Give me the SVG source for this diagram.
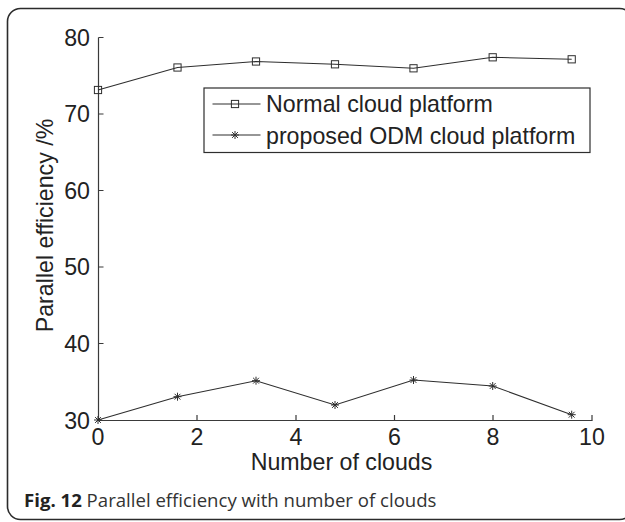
<svg xmlns="http://www.w3.org/2000/svg" width="625" height="522" viewBox="0 0 625 522">
<defs>
<style>
.frame{fill:none;stroke:#2b2b2b;stroke-width:1.6}
.axis{fill:none;stroke:#3a3a3a;stroke-width:1.2}
.series{fill:none;stroke:#2e2e2e;stroke-width:1.1}
.sq{fill:none;stroke:#2e2e2e;stroke-width:1}
.st{fill:none;stroke:#2e2e2e;stroke-width:1}
.t{font-family:"Liberation Sans",Arial,sans-serif;font-size:23.2px;fill:#222}
.cap{font-family:"Open Sans","Noto Sans",sans-serif;font-size:18.6px;fill:#333}
</style>
<rect id="m-sq" x="-3.6" y="-3.6" width="7.2" height="7.2" class="sq"/>
<g id="m-st" class="st"><path d="M-4,0H4M0,-4V4M-2.9,-2.9L2.9,2.9M-2.9,2.9L2.9,-2.9"/></g>
</defs>
<rect width="625" height="522" fill="#fff"/>
<rect class="frame" x="7.5" y="8.5" width="625" height="511" rx="13"/>

<g id="axes">
<path class="axis" d="M98.5,37.5V420.5H592.5"/>
<path class="axis" d="M98.5,37.5h5M98.5,114h5M98.5,190.5h5M98.5,267h5M98.5,343.5h5"/>
<path class="axis" d="M197,420.5v-5.5M296,420.5v-5.5M394.5,420.5v-5.5M493,420.5v-5.5M592,420.5v-5.5"/>
<g class="t" text-anchor="end">
<text x="90" y="45.5">80</text>
<text x="90" y="122">70</text>
<text x="90" y="198.5">60</text>
<text x="90" y="275">50</text>
<text x="90" y="351.5">40</text>
<text x="90" y="428.5">30</text>
</g>
<g class="t" text-anchor="middle">
<text x="98" y="444.5">0</text>
<text x="197" y="444.5">2</text>
<text x="296" y="444.5">4</text>
<text x="394.5" y="444.5">6</text>
<text x="493" y="444.5">8</text>
<text x="592" y="444.5">10</text>
<text x="341.5" y="470">Number of clouds</text>
<text transform="translate(53,225.5) rotate(-90)">Parallel efficiency /%</text>
</g>
</g>

<g id="connectors">
<polyline class="series" points="98,90 177.5,67.5 256,61.5 335,64.3 413.5,68.3 492.7,57.3 571.7,59.3"/>
<polyline class="series" points="98,420 177.5,396.7 256,380.7 335,405 413.5,380 492.7,386 571.7,414.7"/>
</g>

<g id="normal-markers">
<use href="#m-sq" x="98" y="90"/>
<use href="#m-sq" x="177.5" y="67.5"/>
<use href="#m-sq" x="256" y="61.5"/>
<use href="#m-sq" x="335" y="64.3"/>
<use href="#m-sq" x="413.5" y="68.3"/>
<use href="#m-sq" x="492.7" y="57.3"/>
<use href="#m-sq" x="571.7" y="59.3"/>
</g>
<g id="odm-markers">
<use href="#m-st" x="98" y="420"/>
<use href="#m-st" x="177.5" y="396.7"/>
<use href="#m-st" x="256" y="380.7"/>
<use href="#m-st" x="335" y="405"/>
<use href="#m-st" x="413.5" y="380"/>
<use href="#m-st" x="492.7" y="386"/>
<use href="#m-st" x="571.7" y="414.7"/>
</g>

<g id="legend">
<rect x="204" y="88" width="386" height="64.5" fill="#fff" stroke="#2e2e2e" stroke-width="1.2"/>
<path class="series" d="M212.5,104H260.5M212.5,135H260.5"/>
<use href="#m-sq" x="235" y="104"/>
<use href="#m-st" x="235" y="135"/>
<text class="t" x="266" y="112.3">Normal cloud platform</text>
<text class="t" x="266" y="143.5">proposed ODM cloud platform</text>
</g>

<g id="caption">
<text class="cap" x="24" y="507"><tspan font-weight="bold" fill="#222">Fig. 12</tspan> Parallel efficiency with number of clouds</text>
</g>
</svg>
